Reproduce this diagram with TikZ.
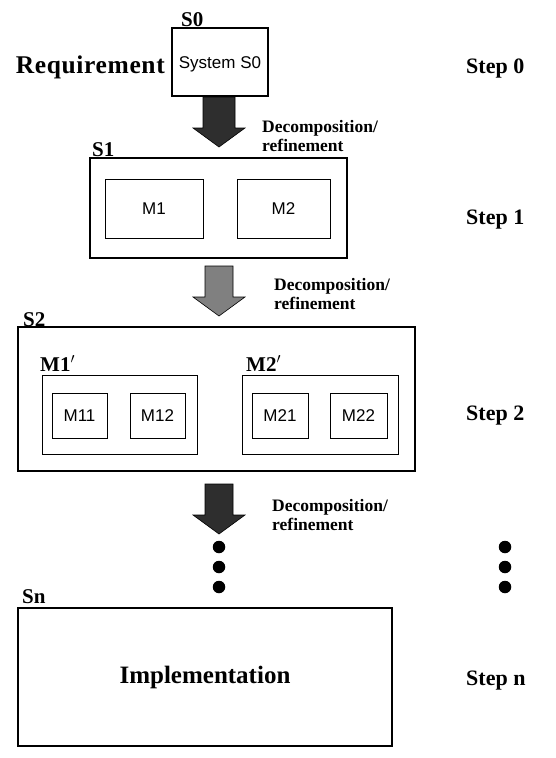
\documentclass[tikz,border=0pt]{standalone}
\usepackage{fontspec}
\usetikzlibrary{calc}
\setmainfont{Liberation Serif}
\newfontfamily\boxfont{Liberation Sans}
\tikzset{
  slabel/.style={font=\bfseries\fontsize{21}{24}\selectfont, inner sep=0pt, anchor=base west},
  steplabel/.style={font=\bfseries\fontsize{22}{26}\selectfont, inner sep=0pt, anchor=base west},
  declabel/.style={font=\bfseries\fontsize{17.5}{19}\selectfont, align=left, inner sep=0pt, anchor=north west},
  sysbox/.style={draw, line width=1.2pt, inner sep=0pt},
  modbox/.style={draw, line width=1pt, inner sep=0pt, font=\boxfont\fontsize{17}{20}\selectfont},
  blockarrow/.style={draw=black, line width=0.6pt},
  dotmark/.style={circle, fill=black, inner sep=0pt, minimum size=12.5pt},
}
\begin{document}
\begin{tikzpicture}[x=1pt, y=-1pt]
\useasboundingbox (0,0) rectangle (556,758);

% ---- Step 0
\node[modbox, line width=1.2pt, minimum width=96pt, minimum height=68pt, text height=16pt, text depth=4pt] (S0) at (220,62) {System S0};
\node[slabel] (S0lbl) at (181,26) {S0};
\node[font=\bfseries\fontsize{25.5}{28}\selectfont\addfontfeature{LetterSpace=2.5}, inner sep=0pt, anchor=base east] (req) at (165,73) {Requirement};
\node[steplabel] (step0) at (466,73) {Step 0};

% ---- arrow 1
\coordinate (a1) at (219,97);
\fill[black!82, blockarrow] ($(a1)+(-16,0)$) -- ($(a1)+(16,0)$) -- ($(a1)+(16,31)$) -- ($(a1)+(26,31)$)
  -- ($(a1)+(0,50)$) -- ($(a1)+(-26,31)$) -- ($(a1)+(-16,31)$) -- cycle;
\node[declabel] (dec1) at (262,120) {Decomposition/\\refinement};

% ---- Step 1
\node[sysbox, minimum width=257pt, minimum height=100pt] (S1) at (218.5,208) {};
\node[slabel] (S1lbl) at (92,156) {S1};
\node[modbox, minimum width=98pt, minimum height=59pt] (M1) at (154,208.5) {M1};
\node[modbox, minimum width=93pt, minimum height=59pt] (M2) at (283.5,208.5) {M2};
\node[steplabel] (step1) at (466,224) {Step 1};

% ---- arrow 2
\coordinate (a2) at (219,266);
\fill[black!50, blockarrow] ($(a2)+(-14,0)$) -- ($(a2)+(14,0)$) -- ($(a2)+(14,31)$) -- ($(a2)+(26,31)$)
  -- ($(a2)+(0,50)$) -- ($(a2)+(-26,31)$) -- ($(a2)+(-14,31)$) -- cycle;
\node[declabel] (dec2) at (274,278) {Decomposition/\\refinement};

% ---- Step 2
\node[sysbox, minimum width=397pt, minimum height=144pt] (S2) at (216.5,399) {};
\node[slabel] (S2lbl) at (23,326) {S2};
\node[sysbox, line width=1pt, minimum width=155pt, minimum height=79pt] (M1p) at (119.5,414.5) {};
\node[slabel] (M1plbl) at (40,371) {M1$'$};
\node[sysbox, line width=1pt, minimum width=156pt, minimum height=79pt] (M2p) at (320,414.5) {};
\node[slabel] (M2plbl) at (246,371) {M2$'$};
\node[modbox, minimum width=55pt, minimum height=45pt] (M11) at (79.5,415.5) {M11};
\node[modbox, minimum width=55pt, minimum height=45pt] (M12) at (157.5,415.5) {M12};
\node[modbox, minimum width=56pt, minimum height=45pt] (M21) at (280,415.5) {M21};
\node[modbox, minimum width=57pt, minimum height=45pt] (M22) at (358.5,415.5) {M22};
\node[steplabel] (step2) at (466,420) {Step 2};

% ---- arrow 3
\coordinate (a3) at (219,484);
\fill[black!82, blockarrow] ($(a3)+(-14,0)$) -- ($(a3)+(14,0)$) -- ($(a3)+(14,31)$) -- ($(a3)+(26,31)$)
  -- ($(a3)+(0,50)$) -- ($(a3)+(-26,31)$) -- ($(a3)+(-14,31)$) -- cycle;
\node[declabel] (dec3) at (272,499) {Decomposition/\\refinement};

% ---- dots
\node[dotmark] (d1) at (219,547) {};
\node[dotmark] (d2) at (219,567) {};
\node[dotmark] (d3) at (219,587) {};
\node[dotmark] (e1) at (505,547) {};
\node[dotmark] (e2) at (505,567) {};
\node[dotmark] (e3) at (505,587) {};

% ---- Step n
\node[sysbox, minimum width=374pt, minimum height=138pt, font=\bfseries\fontsize{25}{28}\selectfont] (Sn) at (205,677) {Implementation};
\node[slabel] (Snlbl) at (22,603) {Sn};
\node[steplabel] (stepn) at (466,685) {Step n};
\end{tikzpicture}
\end{document}
